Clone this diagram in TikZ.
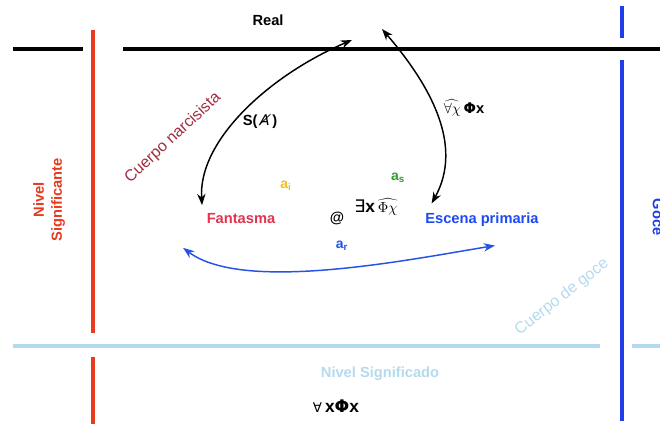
\documentclass[tikz,border=0pt]{standalone}
\usepackage{fontspec}
\setmainfont{Liberation Sans}
\newfontfamily\symfont{DejaVu Sans}
\usetikzlibrary{arrows.meta, calc}

\definecolor{signred}{HTML}{E63B1F}
\definecolor{goceblue}{HTML}{1F3DE8}
\definecolor{lightblue}{HTML}{B3DAEE}
\definecolor{fantred}{HTML}{E2334F}
\definecolor{narcred}{HTML}{A02C40}
\definecolor{escblue}{HTML}{1D49F2}
\definecolor{arrowblue}{HTML}{2453E6}
\definecolor{ayellow}{HTML}{F0BE28}
\definecolor{agreen}{HTML}{2E9E2E}

\begin{document}
\begin{tikzpicture}[
    x=0.75pt, y=-0.75pt,
    bar/.style={line width=2.3pt},
    lbl/.style={font=\bfseries\fontsize{11}{13.5}\selectfont},
    formula/.style={font=\bfseries\fontsize{13}{15}\selectfont},
    body/.style={font=\fontsize{12}{14}\selectfont},
    sub/.style={font=\bfseries\fontsize{10.5}{12}\selectfont, inner sep=1pt},
    twoway/.style={{Stealth[length=3mm, width=2.2mm]}-{Stealth[length=3mm, width=2.2mm]}, line width=1.1pt}
]
\useasboundingbox (0,0) rectangle (660,424);

% Bars
\draw[bar, black] (13,49) -- (83,49);
\draw[bar, black] (123,49) -- (660,49);
\draw[bar, signred] (93,30) -- (93,333);
\draw[bar, signred] (93,357) -- (93,424);
\draw[bar, lightblue] (13,346) -- (600,346);
\draw[bar, lightblue] (632,346) -- (660,346);
\draw[bar, goceblue] (622,6) -- (622,38);
\draw[bar, goceblue] (622,60) -- (622,421);

% Levels
\node[lbl] (real) at (268,20) {Real};
\node[lbl, text=signred, rotate=90, align=center] (significante) at (49,200) {Nivel\\Significante};
\node[lbl, text=goceblue, rotate=-90] (goce) at (658,217) {Goce};
\node[lbl, text=lightblue] (significado) at (380,374) {Nivel Significado};
\node[body, text=narcred, rotate=43] (narcisista) at (173,138) {Cuerpo narcisista};
\node[body, text=lightblue, rotate=38] (cuerpogoce) at (562,297) {Cuerpo de goce};

% Scenes
\node[lbl, text=fantred] (fantasma) at (241,219) {Fantasma};
\node[lbl, text=escblue] (escena) at (482,220) {Escena primaria};

% Formulas
\node[lbl] (sbarred) at (260,121) {S(\,{\symfont\mdseries\itshape Ⱥ}\,)};
\node[formula] (forallhat) at (464,108) {\fontsize{11}{13}\selectfont$\widehat{\forall\chi}$\,{\symfont Φ}x};
\node[lbl] (arroba) at (337,218) {@};
\node[formula] (exists) at (376,207) {{\symfont\mdseries ∃}x\,\fontsize{11}{13}\selectfont$\widehat{\Phi\chi}$};
\node[formula] (forallx) at (336,406) {{\symfont\mdseries\fontsize{10}{12}\selectfont ∀}\,x{\symfont Φ}x};

% Objects a
\node[sub, text=ayellow] (ai) at (286,186) {a\textsubscript{i}};
\node[sub, text=agreen] (as) at (398,178) {a\textsubscript{s}};
\node[sub, text=arrowblue] (ar) at (342,246) {a\textsubscript{r}};

% Arrows
\coordinate (realL) at (352,40);
\coordinate (realR) at (382,29);
\draw[twoway] (realL) .. controls (270,75) and (198,140) .. ($(fantasma.north west)+(0,-4)$);
\draw[twoway] (realR) .. controls (430,85) and (464,145) .. ($(escena.north west)+(11,-5)$);
\draw[twoway, arrowblue] ($(fantasma.south west)+(-19,19)$) .. controls (243,293) and (407,260) .. ($(escena.south)+(13,14)$);

\end{tikzpicture}
\end{document}
